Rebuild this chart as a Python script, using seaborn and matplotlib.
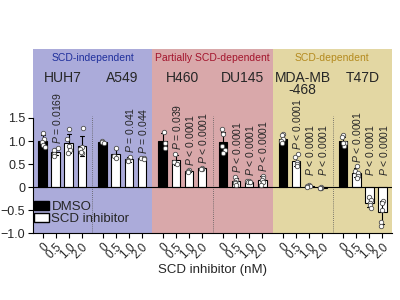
import numpy as np
import pandas as pd
import seaborn as sns
import matplotlib.pyplot as plt
from matplotlib.patches import Patch

# ---------------- data ----------------
cell_lines = ["HUH7", "A549", "H460", "DU145", "MDA-MB\n-468", "T47D"]
doses = ["0", "0.5", "1.0", "2.0"]
regions = ["SCD-independent", "Partially SCD-dependent", "SCD-dependent"]

huh7 = [[1.18, 1.05, 0.98, 0.92, 0.87], [0.85, 0.80, 0.72, 0.68], [1.25, 1.05, 0.90, 0.80, 0.75], [1.28, 0.88, 0.82, 0.75, 0.77]]
a549 = [[1.00, 0.97, 0.95], [0.84, 0.68, 0.62], [0.66, 0.58, 0.56], [0.64, 0.62, 0.61]]
h460 = [[1.20, 0.95, 0.85], [0.72, 0.55, 0.50], [0.38, 0.34, 0.33], [0.42, 0.40, 0.39]]
du145 = [[1.25, 1.15, 0.80, 0.75, 0.90], [0.22, 0.15, 0.12, 0.08, 0.05], [0.14, 0.13, 0.12, 0.11, 0.10], [0.25, 0.20, 0.15, 0.12, 0.05]]
mda = [[1.15, 1.12, 1.05, 1.00, 0.95], [0.72, 0.65, 0.55, 0.50, 0.45], [0.05, 0.03, 0.02, 0.01], [0.00, -0.01, -0.02, -0.03]]
t47d = [[1.12, 1.08, 0.95, 0.90, 0.95], [0.45, 0.35, 0.30, 0.25, 0.20], [-0.22, -0.28, -0.35, -0.40, -0.45], [-0.30, -0.35, -0.50, -0.75, -0.85]]
replicates = [huh7, a549, h460, du145, mda, t47d]

p_huh7 = [None, "= 0.0169", None, None]
p_a549 = [None, None, "= 0.041", "= 0.044"]
p_h460 = [None, "= 0.039", "< 0.0001", "< 0.0001"]
p_du145 = [None, "< 0.0001", "< 0.0001", "< 0.0001"]
p_mda = [None, "< 0.0001", "< 0.0001", "< 0.0001"]
p_t47d = [None, "< 0.0001", "< 0.0001", "< 0.0001"]
p_values = [p_huh7, p_a549, p_h460, p_du145, p_mda, p_t47d]

# ---------------- style ----------------
sns.set_theme(style="ticks")
plt.rcParams["font.family"] = ["Liberation Sans", "DejaVu Sans"]
plt.rcParams["mathtext.fontset"] = "custom"
plt.rcParams["mathtext.it"] = "Liberation Sans:italic"
plt.rcParams["mathtext.rm"] = "Liberation Sans"
plt.rcParams["axes.unicode_minus"] = True

GROUP_STEP = 4.6
rows = []
for g, reps in enumerate(replicates):
    for i, vals in enumerate(reps):
        for v in vals:
            rows.append({"pos": g * GROUP_STEP + i, "value": v,
                         "treatment": "DMSO" if i == 0 else "SCD inhibitor"})
df = pd.DataFrame(rows)

fig = plt.figure(figsize=(4, 3), dpi=100)
ax = fig.add_axes([0.0825, 0.223, 0.8975, 0.614])

xmin, xmax = -0.75, 5 * GROUP_STEP + 3 + 0.75
bounds = [g * GROUP_STEP + 3.8 for g in range(5)]
region_edges = [xmin, bounds[1], bounds[3], xmax]
region_colors = ["#ababda", "#d9a8aa", "#e3d7a3"]
title_colors = ["#1f2f9c", "#a3142c", "#b48a1e"]
for r in range(3):
    ax.axvspan(region_edges[r], region_edges[r + 1], color=region_colors[r], zorder=0, lw=0)
for b in (bounds[0], bounds[2], bounds[4]):
    ax.plot([b, b], [-1, 1.55], color="0.35", lw=0.6, ls=(0, (1, 1.5)), zorder=1)

sns.barplot(data=df, x="pos", y="value", hue="treatment", native_scale=True, dodge=False,
            palette={"DMSO": "black", "SCD inhibitor": "white"}, edgecolor="black",
            linewidth=0.8, errorbar="sd", capsize=0.35,
            err_kws={"color": "black", "linewidth": 0.8}, width=0.68, legend=False,
            ax=ax, zorder=2)
np.random.seed(3)
sns.stripplot(data=df, x="pos", y="value", native_scale=True, color="white",
              edgecolor="0.3", linewidth=0.6, size=3.2, jitter=0.18, ax=ax, zorder=4)

ax.axhline(0, color="black", lw=0.8, zorder=3)

# p-values
for g, (reps, ps) in enumerate(zip(replicates, p_values)):
    for i, (vals, p) in enumerate(zip(reps, ps)):
        if p is None:
            continue
        top = max(max(vals), np.mean(vals) + np.std(vals, ddof=1), 0.15) + 0.08
        ax.text(g * GROUP_STEP + i + 0.1, top, r"$\it{P}$ " + p, rotation=90,
                ha="center", va="bottom", fontsize=7.5, zorder=5)

# labels
for g, name in enumerate(cell_lines):
    ax.text(g * GROUP_STEP + 1.5, 0.88, name, transform=ax.get_xaxis_transform(),
            ha="center", va="top", fontsize=10, linespacing=0.85)
for r, name in enumerate(regions):
    ax.text((region_edges[r] + region_edges[r + 1]) / 2, 0.95, name,
            transform=ax.get_xaxis_transform(), ha="center", va="center",
            fontsize=7.5, color=title_colors[r])

ax.set_xlim(xmin, xmax)
ax.set_ylim(-1, 3.0)
positions = [g * GROUP_STEP + i for g in range(len(cell_lines)) for i in range(4)]
ax.set_xticks(positions)
ax.set_xticklabels(doses * len(cell_lines), rotation=45, ha="right",
                   rotation_mode="anchor", fontsize=8.5)
ax.set_yticks([-1, -0.5, 0, 0.5, 1, 1.5])
ax.set_yticklabels(["\u22121.0", "\u22120.5", "0", "0.5", "1.0", "1.5"], fontsize=9)
ax.tick_params(axis="both", direction="out", length=3.5, width=0.8, color="black", pad=2)
ax.set_xlabel("")
ax.set_ylabel("")
for s in ("top", "right"):
    ax.spines[s].set_visible(False)
ax.spines["left"].set_bounds(-1, 1.5)
for s in ("left", "bottom"):
    ax.spines[s].set_linewidth(0.8)
    ax.spines[s].set_color("black")

ax.legend(handles=[Patch(fc="black", ec="black", label="DMSO"),
                   Patch(fc="white", ec="black", label="SCD inhibitor")],
          loc="upper left", bbox_to_anchor=(0.0, 0.18), frameon=False, fontsize=9.5,
          handlelength=1.15, handleheight=0.6, handletextpad=0.15, labelspacing=0.0,
          borderaxespad=0, borderpad=0.1)

fig.text(212 / 400, 1 - 270 / 300, "SCD inhibitor (nM)", ha="center", va="center", fontsize=9.5)

fig.savefig("out.png", dpi=100)
